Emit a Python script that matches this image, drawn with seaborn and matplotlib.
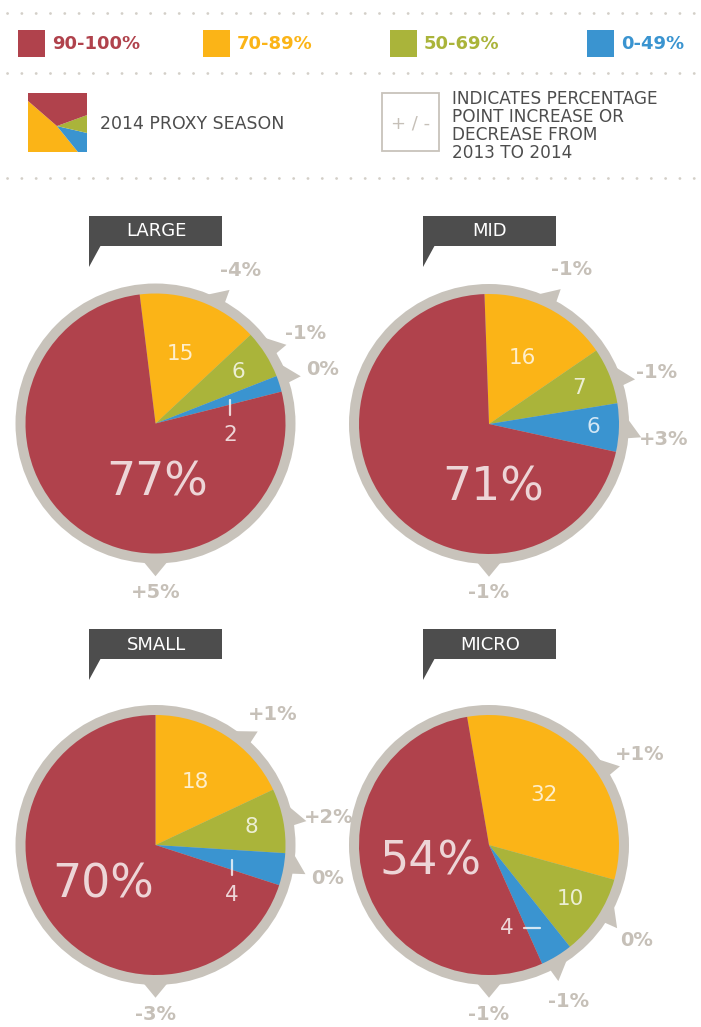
import numpy as np
import seaborn as sns
import matplotlib.pyplot as plt
import matplotlib.patches as mpatches

# --- data: 2014 proxy season, say-on-pay support bands by company size ---
groups = ["LARGE", "MID", "SMALL", "MICRO"]
bands = ["90-100%", "70-89%", "50-69%", "0-49%"]

share_90_100 = [77, 71, 70, 54]
share_70_89 = [15, 16, 18, 32]
share_50_69 = [6, 7, 8, 10]
share_0_49 = [2, 6, 4, 4]

# percentage point change 2013 -> 2014
change_90_100 = ["+5%", "-1%", "-3%", "-1%"]
change_70_89 = ["-4%", "-1%", "+1%", "+1%"]
change_50_69 = ["-1%", "-1%", "+2%", "0%"]
change_0_49 = ["0%", "+3%", "0%", "-1%"]

# legend icon wedges (degrees), counter-clockwise from the yellow edge
icon_shares = [170, 38, 33, 119]

# --- styles / layout ---
RED, YELLOW, GREEN, BLUE = "#B0424C", "#FBB417", "#AAB43A", "#3A94D0"
BAND_COLORS = [RED, YELLOW, GREEN, BLUE]
RING = "#C8C3BB"
DARK = "#4D4D4D"
SOFT = "#C6C0B8"

W, H = 701, 1027
R_PX = 130.0  # pie radius in pixels

layout = [
    dict(cx=155.5, cy=423.5, start=97, ticks=[61, 31, 18], tab=(89, 216),
         big=(0.01, -0.46), small="down"),
    dict(cx=489.0, cy=424.0, start=92, ticks=[62, 17, -5], tab=(423, 216),
         big=(0.03, -0.49), small="in"),
    dict(cx=155.5, cy=845.0, start=90, ticks=[48, 9, -11], tab=(89, 629),
         big=(-0.40, -0.31), small="down"),
    dict(cx=489.0, cy=845.0, start=99.7, ticks=[31, -33, -63], tab=(423, 629),
         big=(-0.45, -0.13), small="left"),
]


def set_config():
    sns.set_theme(style="white")
    plt.rcParams["font.family"] = ["DejaVu Sans"]


def dotted_line(ax, y):
    ax.plot([7, 695], [y, y], color="#D3CFC8", lw=2.0,
            linestyle=(0, (0.05, 5.1)), dash_capstyle="round")


def draw_header(fig, ax):
    for y in [13, 73, 178]:
        dotted_line(ax, y)

    # colour legend
    for x, label, color in zip([18, 203, 390, 587], bands, BAND_COLORS):
        ax.add_patch(mpatches.Rectangle((x, 30), 27, 27, color=color, lw=0))
        ax.text(x + 34, 44, label, color=color, fontsize=13, fontweight="bold",
                va="center", ha="left")

    # little pie icon, clipped to a square
    ax_icon = fig.add_axes([28 / W, (H - 152) / H, 59 / W, 59 / H])
    icon_wedges, _ = ax_icon.pie(icon_shares, colors=[YELLOW, BLUE, GREEN, RED],
                                 startangle=139, counterclock=True, radius=1,
                                 wedgeprops=dict(linewidth=0))
    for w in icon_wedges:
        w.set_clip_on(True)
        w.set_clip_box(ax_icon.bbox)
    ax_icon.set_xlim(-0.49, 0.51)
    ax_icon.set_ylim(-0.44, 0.56)
    ax_icon.set_aspect("equal")
    ax_icon.axis("off")

    ax.text(100, 124, "2014 PROXY SEASON", color=DARK, fontsize=12.5,
            va="center", ha="left")

    ax.add_patch(mpatches.Rectangle((382, 93), 57, 58, fill=False,
                                    edgecolor=RING, lw=1.3))
    ax.text(410.5, 123, "+ / -", color=SOFT, fontsize=13, va="center", ha="center")
    for k, line in enumerate(["INDICATES PERCENTAGE", "POINT INCREASE OR",
                              "DECREASE FROM", "2013 TO 2014"]):
        ax.text(452, 99 + k * 18, line, color=DARK, fontsize=12.2,
                va="center", ha="left")


def draw_tab(ax, x, y, title):
    ax.add_patch(mpatches.Rectangle((x, y), 133, 30, color=DARK, lw=0))
    ax.add_patch(mpatches.Polygon([(x, y + 29), (x + 12, y + 29), (x, y + 51)],
                                  closed=True, color=DARK, lw=0))
    ax.text(x + 67, y + 15.5, title, color="white", fontsize=13,
            va="center", ha="center")


def polar(r, deg):
    t = np.deg2rad(deg)
    return r * np.cos(t), r * np.sin(t)


def draw_pie(fig, i, lay):
    half = 210
    cx, cy = lay["cx"], lay["cy"]
    ax = fig.add_axes([(cx - half) / W, (H - cy - half) / H, 2 * half / W, 2 * half / H])

    values = [share_70_89[i], share_50_69[i], share_0_49[i], share_90_100[i]]
    colors = [YELLOW, GREEN, BLUE, RED]
    changes = [change_70_89[i], change_50_69[i], change_0_49[i], change_90_100[i]]

    ring_r = 140 / R_PX
    ax.add_patch(mpatches.Circle((0, 0), ring_r, color=RING, lw=0, zorder=0.5))
    wedges, _ = ax.pie(values, colors=colors, startangle=lay["start"],
                       counterclock=False, radius=1,
                       wedgeprops=dict(linewidth=0, zorder=2))

    lim = half / R_PX
    ax.set_xlim(-lim, lim)
    ax.set_ylim(-lim, lim)
    ax.set_aspect("equal")
    ax.axis("off")

    # change ticks on the ring + labels
    tick_angles = lay["ticks"] + [-90]
    for k, (ang, txt) in enumerate(zip(tick_angles, changes)):
        if k == 3:
            base = [polar(ring_r - 0.02, ang + 5.5), polar(ring_r - 0.02, ang - 5.5)]
            label_r = 1.3
        else:
            base = [polar(ring_r - 0.02, ang + 8), polar(ring_r - 0.02, ang - 1)]
            label_r = 1.35
        tip = polar(1.175, ang)
        ax.add_patch(mpatches.Polygon(base + [tip], closed=True, color=RING,
                                      lw=0, zorder=0.5))
        lx, ly = polar(label_r, ang)
        ax.text(lx, ly, txt, color=SOFT, fontsize=14, fontweight="bold",
                ha="center", va="center")

    # numbers inside the wedges
    soft_white = dict(color="white", alpha=0.78)
    mids = [(w.theta1 + w.theta2) / 2 for w in wedges]
    for k, r in zip([0, 1], [0.57, 0.75]):
        x, y = polar(r, mids[k])
        ax.text(x, y, str(values[k]), fontsize=15.5, ha="center", va="center",
                zorder=3, **soft_white)

    style = lay["small"]
    if style == "in":
        x, y = polar(0.8, mids[2])
        ax.text(x, y, str(values[2]), fontsize=15.5, ha="center", va="center",
                zorder=3, **soft_white)
    elif style == "down":
        x, y = polar(0.6, mids[2])
        ax.plot([x, x], [y, y - 0.12], lw=1.6, zorder=3, **soft_white)
        ax.text(x, y - 0.27, str(values[2]), fontsize=15.5, ha="center",
                va="center", zorder=3, **soft_white)
    else:
        x, y = polar(0.75, mids[2])
        ax.plot([x, x - 0.12], [y, y], lw=1.6, zorder=3, **soft_white)
        ax.text(x - 0.25, y, str(values[2]), fontsize=15.5, ha="center",
                va="center", zorder=3, **soft_white)

    bx, by = lay["big"]
    ax.text(bx, by, f"{values[3]}%", fontsize=33, ha="center", va="center",
            zorder=3, **soft_white)


def main():
    set_config()
    fig = plt.figure(figsize=(W / 100, H / 100), dpi=100)
    bg = fig.add_axes([0, 0, 1, 1])
    bg.set_xlim(0, W)
    bg.set_ylim(H, 0)
    bg.axis("off")

    draw_header(fig, bg)
    for i, lay in enumerate(layout):
        draw_tab(bg, lay["tab"][0], lay["tab"][1], groups[i])
        draw_pie(fig, i, lay)

    fig.savefig("out.png", dpi=100, facecolor="white")


if __name__ == "__main__":
    main()
